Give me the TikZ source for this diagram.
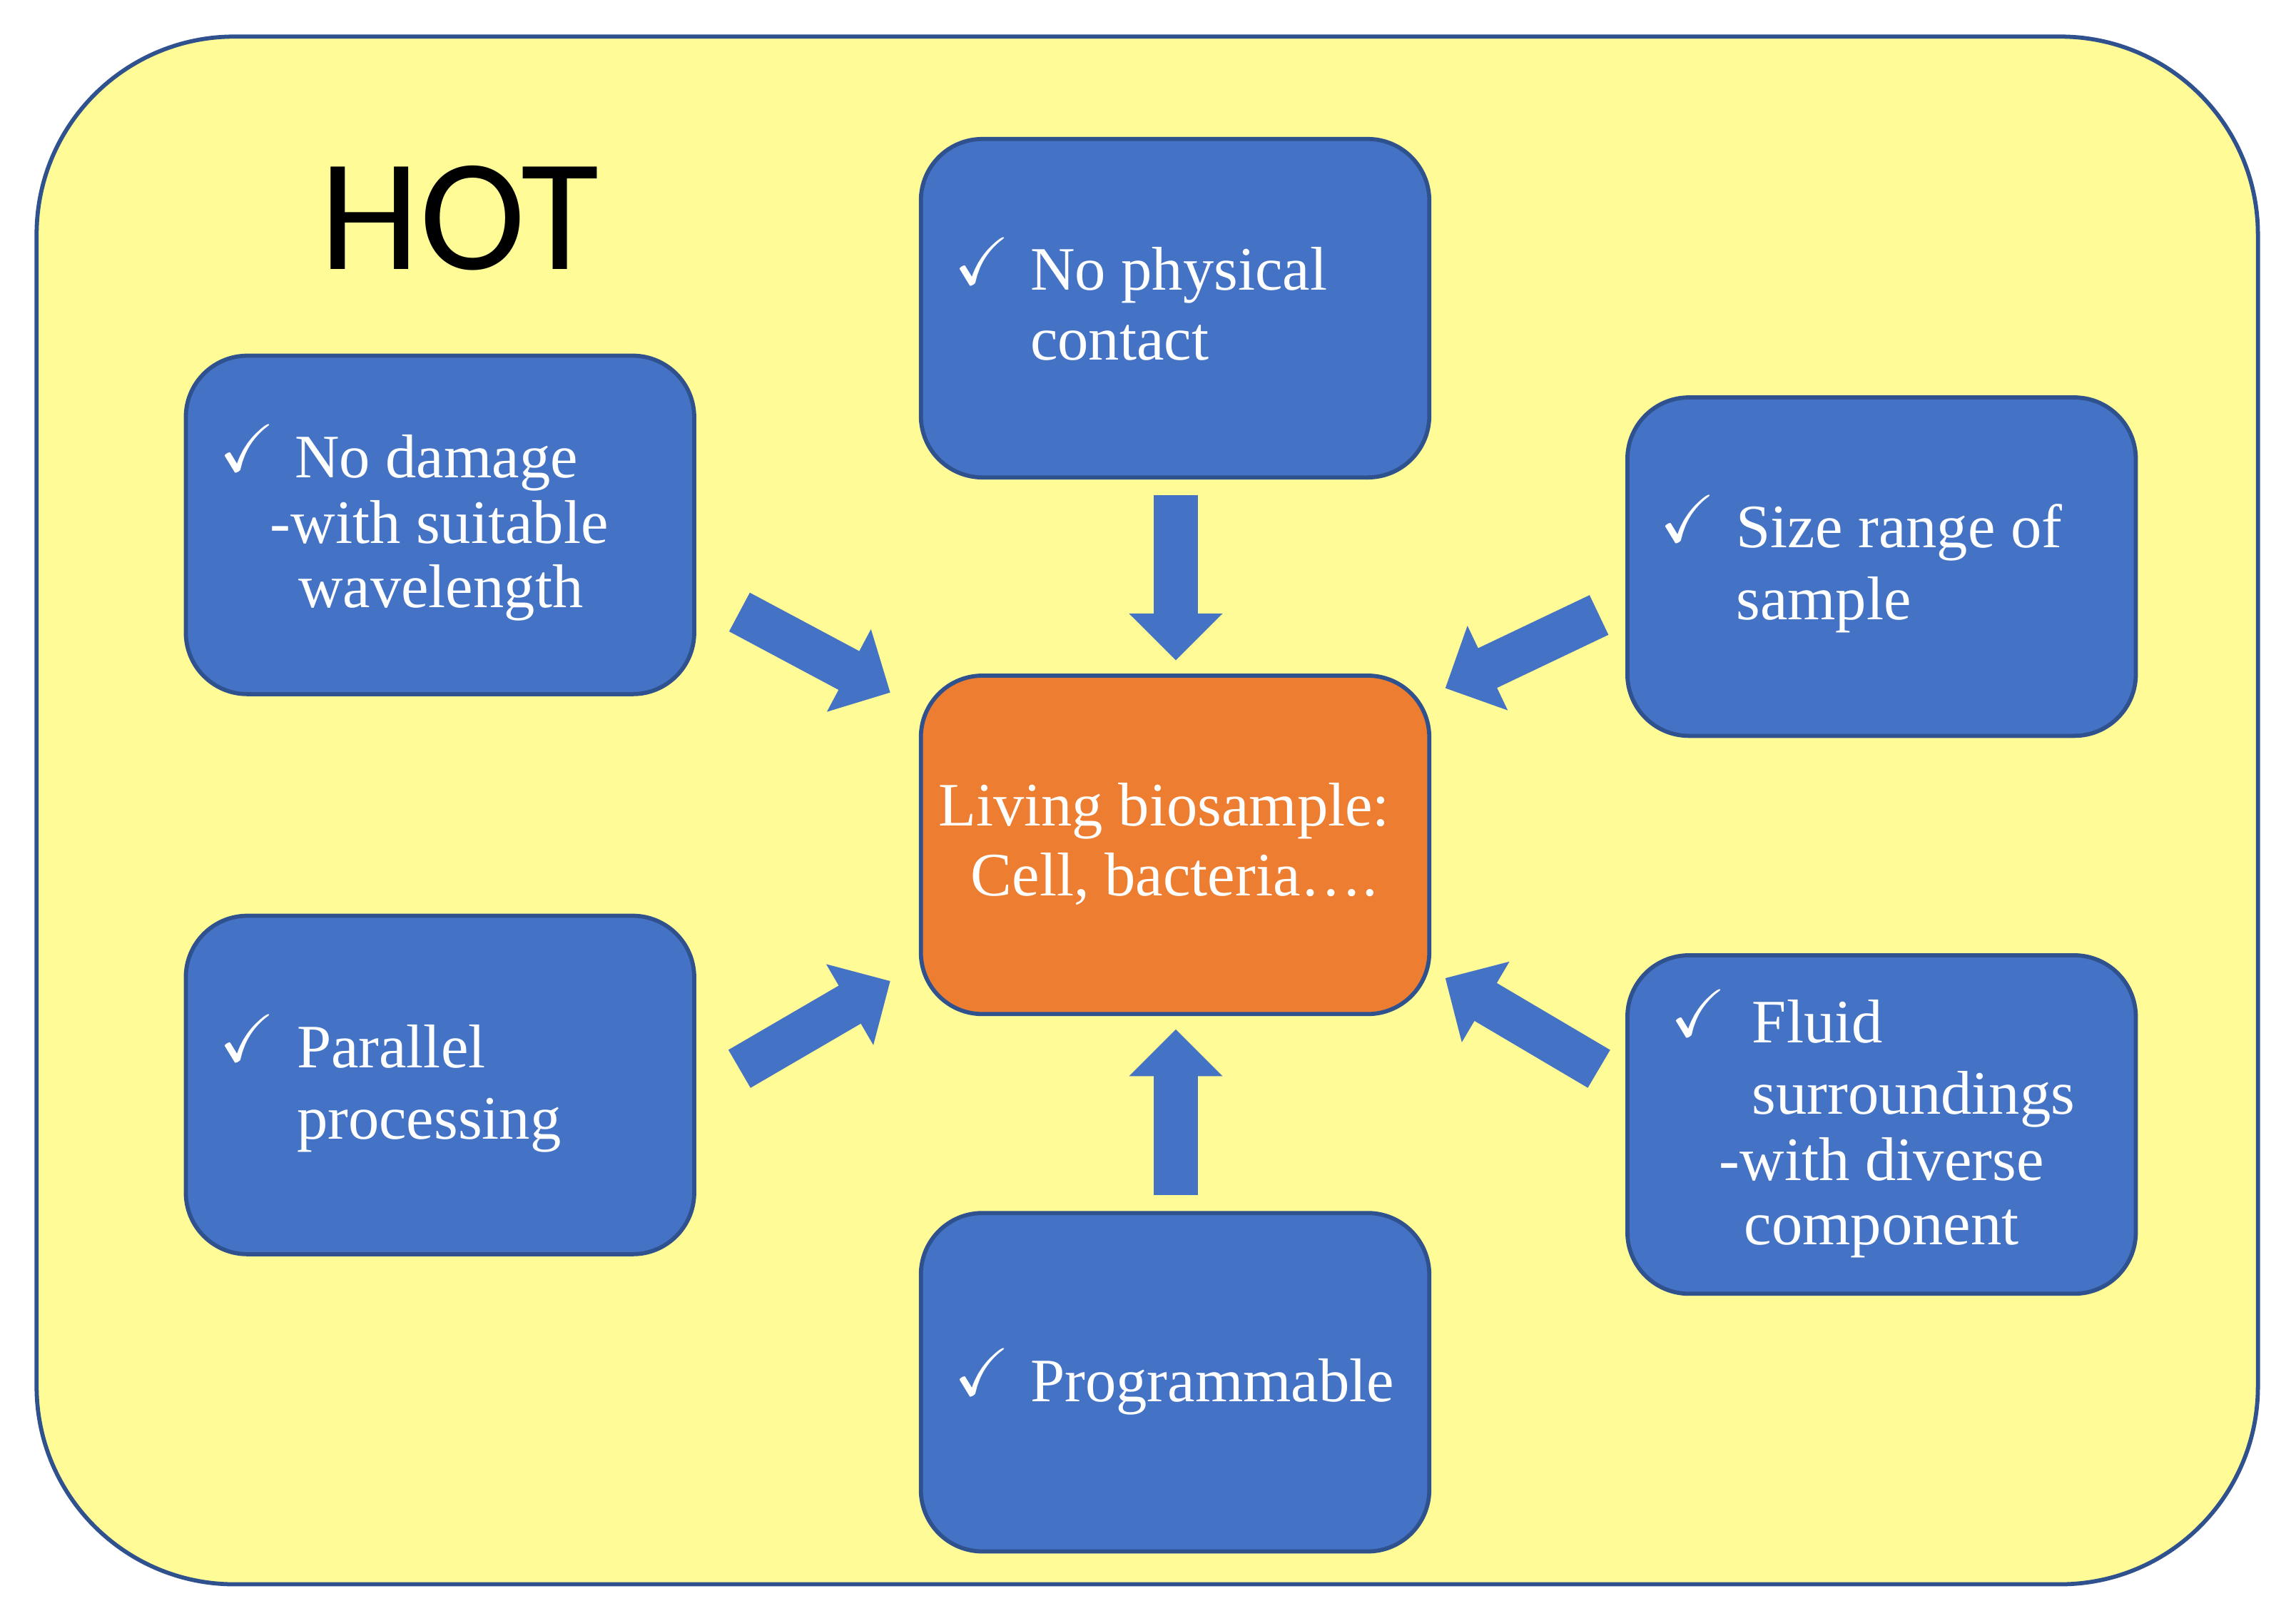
\documentclass[tikz,border=0pt]{standalone}
\usepackage{amssymb}
\usepackage{fontspec}
\setmainfont{Liberation Serif}
\newfontfamily\hotfont{Carlito}
\usetikzlibrary{arrows.meta}
\definecolor{bgY}{HTML}{FFFB96}
\definecolor{bxB}{HTML}{4472C4}
\definecolor{bxE}{HTML}{2F528F}
\definecolor{orn}{HTML}{ED7D31}
\begin{document}
\begin{tikzpicture}[x=0.01cm,y=-0.01cm,
 box/.style={draw=bxE,line width=0.8pt,fill=bxB,rounded corners=0.42cm,minimum width=3.47cm,minimum height=2.31cm,inner sep=0},
 ln/.style={anchor=base west,text=white,font=\fontsize{12}{14}\selectfont,inner sep=0},
 lc/.style={anchor=base,text=white,font=\fontsize{12}{14}\selectfont,inner sep=0},
 ck/.style={anchor=base west,text=white,font=\fontsize{13}{15}\selectfont,inner sep=0},
 barr/.style={line width=0.3cm,color=bxB,-{Triangle[width=0.62cm,length=0.32cm]}}]
\useasboundingbox (0,0) rectangle (1568,1107);
\draw[fill=bgY,draw=bxE,line width=0.8pt,rounded corners=1.35cm] (25,25) rectangle (1542,1082);
\node[anchor=base west,inner sep=0,font=\hotfont\fontsize{31}{35}\selectfont] (hot) at (218,184) {HOT};
\node[box] (top) at (802.5,210.5) {};
\node[box] (l1) at (300.5,358.5) {};
\node[box] (r1) at (1285,387) {};
\node[box,fill=orn] (c) at (802.5,577) {};
\node[box] (l2) at (300.5,741) {};
\node[box] (r2) at (1285,768) {};
\node[box] (bot) at (802.5,944) {};
% text
\node[ck] (t0) at (651,194) {\checkmark};
\node[ln] (t1) at (703,198) {No physical};
\node[ln] (t2) at (703,246) {contact};
\node[ck] (a0) at (149,322) {\checkmark};
\node[lc] (a1) at (298,326) {No damage};
\node[lc] (a2) at (300,371) {-with suitable};
\node[lc] (a3) at (301,415) {wavelength};
\node[ck] (b0) at (1133,370) {\checkmark};
\node[ln] (b1) at (1185,374) {Size range of};
\node[ln] (b2) at (1185,423) {sample};
\node[lc] (c1) at (795,564) {Living biosample:};
\node[lc] (c2) at (802,612) {Cell, bacteria\dots.};
\node[ck] (d0) at (149,725) {\checkmark};
\node[ln] (d1) at (202,729) {Parallel};
\node[ln] (d2) at (202,778) {processing};
\node[ck] (e0) at (1140,708) {\checkmark};
\node[ln] (e1) at (1196,712) {Fluid};
\node[ln] (e2) at (1196,761) {surroundings};
\node[lc] (e3) at (1285,806) {-with diverse};
\node[lc] (e4) at (1285,850) {component};
\node[ck] (f0) at (651,953) {\checkmark};
\node[ln] (f1) at (703,957) {Programmable};
% arrows
\coordinate (p1) at (803,338); \coordinate (q1) at (803,451);
\coordinate (p2) at (505,418); \coordinate (q2) at (608,473);
\coordinate (p3) at (1092,420); \coordinate (q3) at (987,470);
\coordinate (p4) at (505,730); \coordinate (q4) at (608,670);
\coordinate (p5) at (1092,730); \coordinate (q5) at (987,668);
\coordinate (p6) at (803,816); \coordinate (q6) at (803,703);
\foreach \a/\b in {p1/q1,p2/q2,p3/q3,p4/q4,p5/q5,p6/q6} \draw[barr] (\a) -- (\b);
\end{tikzpicture}
\end{document}
